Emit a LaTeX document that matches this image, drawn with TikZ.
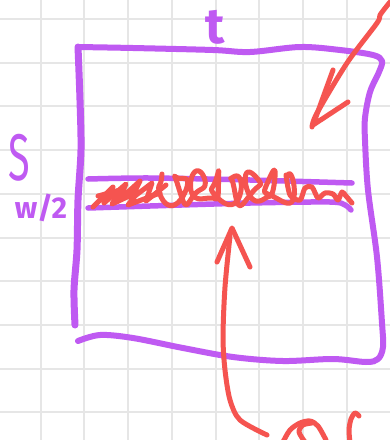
\documentclass[tikz,border=0pt]{standalone}
\usepackage{fontspec}
\setsansfont{Fira Sans}
\definecolor{pp}{RGB}{191,90,242}
\definecolor{rd}{RGB}{245,84,80}
\definecolor{gr}{RGB}{230,230,230}
\begin{document}
\begin{tikzpicture}[x=1pt,y=-1pt,line cap=round,line join=round,
  pstroke/.style={draw=pp,line width=6pt},
  rstroke/.style={draw=rd,line width=5pt},
  gridline/.style={draw=gr,line width=2pt},
  plabel/.style={text=pp,font=\sffamily\bfseries}]
\useasboundingbox (0,0) rectangle (390,440);
\fill[white] (0,0) rectangle (390,440);
% grid
\foreach \i in {0,...,8} \draw[gridline] ({-3+43.7*\i},0) -- ({-3+43.7*\i},440);
\foreach \j in {0,...,9} \draw[gridline] (0,{19+43.7*\j}) -- (390,{19+43.7*\j});
% box: top, right, bottom
\draw[pstroke] plot[smooth,tension=0.55] coordinates {(78,47) (133,48) (213,50) (250,52) (300,47) (340,50) (373,55) (382,61) (379,72) (370,92) (365,118) (365,140) (368,190) (377,257) (382,323) (383,347) (378,359) (366,362) (333,359) (283,361) (233,357) (183,348) (133,338) (100,335) (78,341)};
% box: left
\draw[pp,line width=7pt] plot[smooth] coordinates {(78,47) (80,100) (81,150) (78,200) (77,250) (74,290) (75,325)};
% band
\draw[pstroke,line width=5.5pt] plot[smooth] coordinates {(88,179) (150,178) (250,180) (352,183)};
\draw[pstroke,line width=5.5pt] plot[smooth] coordinates {(88,208) (150,206) (250,203) (330,202) (345,205) (351,210)};
% scribble
\draw[rstroke] (93,207) -- (113,187) -- (104,203) -- (126,184) -- (118,201) -- (140,181) -- (131,199) -- (152,183) -- (146,201) -- (166,185);
\draw[rstroke] (98,196) -- (120,190) -- (112,204) -- (138,192) -- (128,205) -- (160,193);
\draw[rstroke] plot[domain=0:2520,samples=260,variable=\t] ({162+0.0505*\t-9*sin(\t)+3*sin(1.7*\t)},{188-14*cos(\t)+4*sin(2.3*\t)});
\draw[rstroke] plot[smooth] coordinates {(286,175) (290,195) (300,200) (305,188) (312,187) (318,198) (325,193) (333,194) (338,200) (342,192) (346,196) (352,203)};
% top-right arrow
\draw[rstroke] plot[smooth] coordinates {(390,2) (380,15) (377,23) (347,63) (317,113) (312,127)};
\draw[rstroke] (333,70) -- (313,125) -- (348,102);
% bottom arrow
\draw[rstroke] plot[smooth] coordinates {(230,236) (225,287) (223,337) (225,370) (230,400) (240,420) (267,435)};
\draw[rstroke] (217,262) -- (232,228) -- (250,267);
% bottom-right red strokes (cut off)
\draw[rstroke] plot[smooth] coordinates {(283,442) (290,430) (300,423) (310,421) (318,426) (326,440)};
\draw[rstroke] plot[smooth] coordinates {(305,442) (299,432) (303,425) (312,423)};
\draw[rstroke] plot[smooth] coordinates {(359,416) (355,413) (351,419) (349,430) (350,442)};
% labels
\node[plabel,font=\sffamily\bfseries\fontsize{50}{50}\selectfont] (t) at (215,27) {t};
\node[plabel,font=\sffamily\fontsize{66}{66}\selectfont,xscale=0.6] (S) at (19,158) {S};
\node[plabel,font=\sffamily\bfseries\fontsize{30}{30}\selectfont] (w) at (41,208) {w/2};
\end{tikzpicture}
\end{document}
